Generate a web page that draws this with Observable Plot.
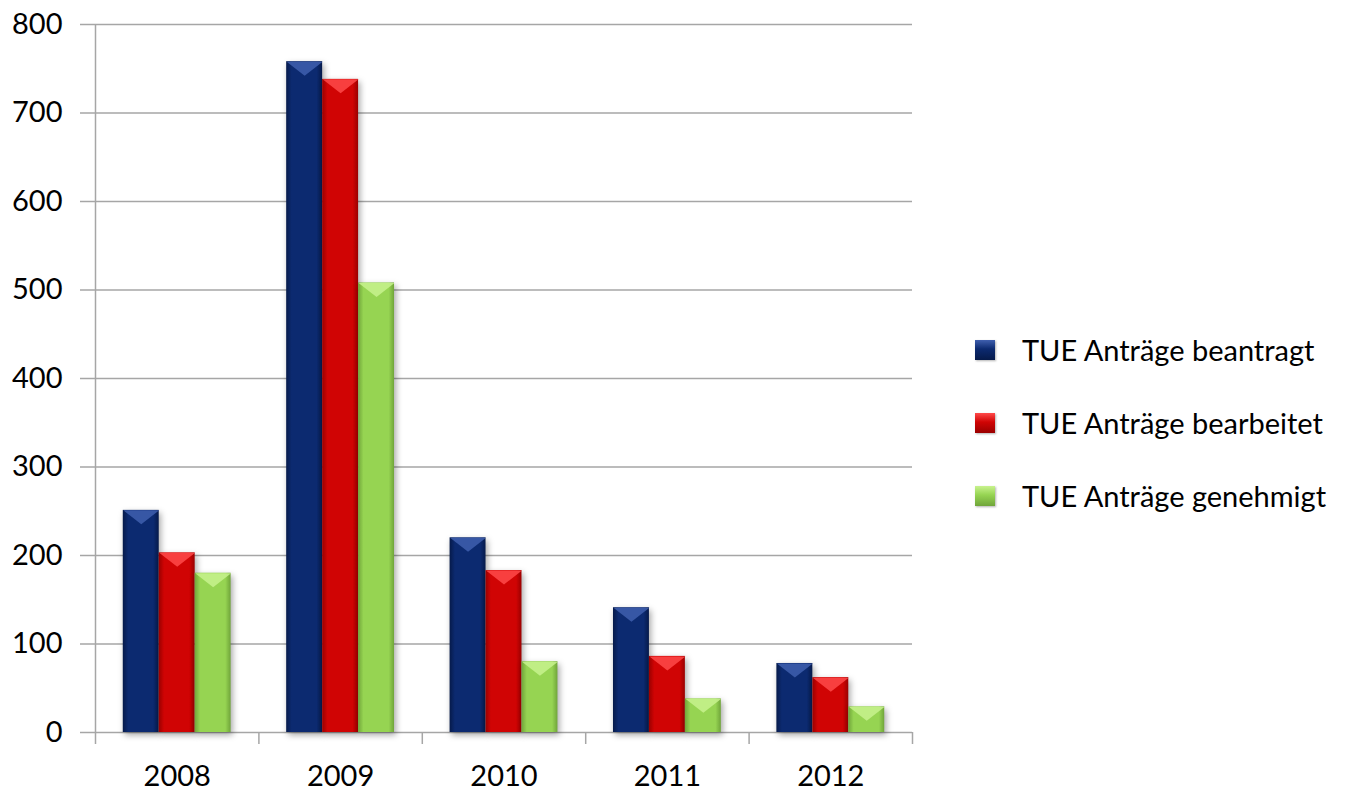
<!DOCTYPE html>
<html>
<head>
<meta charset="utf-8">
<script src="https://cdn.jsdelivr.net/npm/d3@7"></script>
<script src="https://cdn.jsdelivr.net/npm/@observablehq/plot@0.6"></script>
<style>
  html, body { margin: 0; padding: 0; background: #fff; }
  #wrap { position: relative; width: 1348px; height: 800px; font-family: Lato, "Open Sans", sans-serif; }
  #chart { position: absolute; left: 0; top: 0; }
  #legend { position: absolute; left: 975px; top: 313px; }
  .row { display: flex; align-items: center; height: 73px; font-size: 29px; color: #000; }
  .sw { width: 20px; height: 20px; margin-right: 27px; box-shadow: 1px 1px 2px rgba(0,0,0,0.3); }
  g.bars { filter: drop-shadow(2px 3px 3px rgba(0,0,0,0.35)); }
</style>
</head>
<body>
<svg width="0" height="0" style="position:absolute">
  <defs>
    <linearGradient id="g0" x1="0" x2="1" y1="0" y2="0">
      <stop offset="0" stop-color="#061a4a"/><stop offset="0.15" stop-color="#0c2a70"/>
      <stop offset="0.85" stop-color="#0c2a70"/><stop offset="1" stop-color="#061a4a"/>
    </linearGradient>
    <linearGradient id="g1" x1="0" x2="1" y1="0" y2="0">
      <stop offset="0" stop-color="#9a0000"/><stop offset="0.15" stop-color="#d00404"/>
      <stop offset="0.85" stop-color="#d00404"/><stop offset="1" stop-color="#9a0000"/>
    </linearGradient>
    <linearGradient id="g2" x1="0" x2="1" y1="0" y2="0">
      <stop offset="0" stop-color="#70a53a"/><stop offset="0.15" stop-color="#96d452"/>
      <stop offset="0.85" stop-color="#96d452"/><stop offset="1" stop-color="#70a53a"/>
    </linearGradient>
  </defs>
</svg>
<div id="wrap">
  <div id="chart"></div>
  <div id="legend"></div>
</div>
<script>
// ---- data ----
const years = ["2008", "2009", "2010", "2011", "2012"];
const seriesNames = ["TUE Anträge beantragt", "TUE Anträge bearbeitet", "TUE Anträge genehmigt"];
const beantragt = [251, 758, 220, 141, 78];
const bearbeitet = [203, 738, 183, 86, 62];
const genehmigt = [180, 508, 80, 38, 29];
const yTicks = [0, 100, 200, 300, 400, 500, 600, 700, 800];

// ---- styles ----
const gradients = ["url(#g0)", "url(#g1)", "url(#g2)"];
const capColors = ["#3f5fae", "#ff4a4a", "#c8f28e"];
const swatchCss = [
  "linear-gradient(to bottom, #3f5fae 0%, #0c2a70 45%, #061a4a 100%)",
  "linear-gradient(to bottom, #ff4a4a 0%, #d00404 45%, #9a0000 100%)",
  "linear-gradient(to bottom, #c8f28e 0%, #96d452 45%, #70a53a 100%)"
];
const gridColor = "#a6a6a6";

const W = 930, H = 800, ML = 95, MR = 18, MT = 24, MB = 68;
const bw = 0.22;                 // bar width as fraction of a year band
const pad = (1 - 3 * bw) / 2;
const barPx = (W - ML - MR) / years.length * bw;

const seriesValues = [beantragt, bearbeitet, genehmigt];
const rows = years.flatMap((year, i) =>
  seriesValues.map((vals, k) => ({year, i, k, series: seriesNames[k], value: vals[i]}))
);

const capSymbol = {
  draw(context) {
    const w = barPx / 2, h = 14;
    context.moveTo(-w, 0);
    context.lineTo(w, 0);
    context.lineTo(0, h);
    context.closePath();
  }
};

const bars = seriesNames.map((s, k) =>
  Plot.rectY(rows.filter(d => d.k === k), {
    x1: d => d.i + pad + d.k * bw,
    x2: d => d.i + pad + (d.k + 1) * bw,
    y: "value",
    fill: gradients[k],
    className: "bars"
  })
);
const caps = seriesNames.map((s, k) =>
  Plot.dot(rows.filter(d => d.k === k), {
    x: d => d.i + pad + (d.k + 0.5) * bw,
    y: "value",
    symbol: capSymbol,
    fill: capColors[k],
    fillOpacity: 0.85,
    stroke: "none"
  })
);

const chart = Plot.plot({
  width: W,
  height: H,
  marginLeft: ML,
  marginRight: MR,
  marginTop: MT,
  marginBottom: MB,
  style: {fontFamily: "Lato, 'Open Sans', sans-serif", fontSize: "29px", color: "#000", background: "#fff"},
  x: {domain: [0, years.length], axis: null},
  y: {domain: [0, 800], axis: null},
  marks: [
    Plot.ruleY(yTicks, {stroke: gridColor, strokeWidth: 1.5}),
    Plot.ruleX([0], {y1: 0, y2: 800, stroke: gridColor, strokeWidth: 1.5}),
    Plot.axisY(yTicks, {tickSize: 15, tickPadding: 18, stroke: gridColor, strokeWidth: 1.5, fontSize: 29, label: null, tickFormat: d => String(d)}),
    Plot.axisX(d3.range(years.length + 1), {tickSize: 12, stroke: gridColor, strokeWidth: 1.5, label: null, tickFormat: () => ""}),
    Plot.axisX(years.map((y, i) => i + 0.5), {tickSize: 0, tickPadding: 33, fontSize: 29, label: null, tickFormat: v => years[Math.floor(v)]}),
    ...bars,
    ...caps
  ]
});
document.getElementById("chart").appendChild(chart);

// legend
const legend = d3.select("#legend");
seriesNames.forEach((s, k) => {
  const row = legend.append("div").attr("class", "row");
  row.append("div").attr("class", "sw").style("background", swatchCss[k]);
  row.append("span").text(s);
});
</script>
</body>
</html>
